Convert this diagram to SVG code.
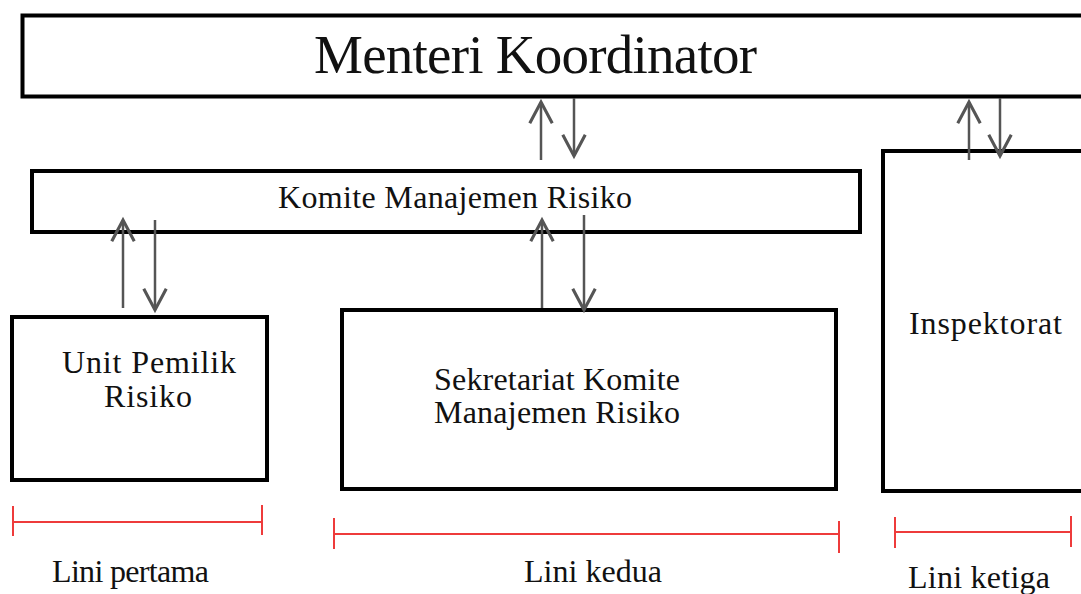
<svg xmlns="http://www.w3.org/2000/svg" width="1081" height="594" viewBox="0 0 1081 594">
<style>
.box{fill:#fff;stroke:#000;stroke-width:4}
.t{font-family:"Liberation Serif","Times New Roman",serif;fill:#111}
.arr{stroke:#555;stroke-width:2.5;fill:none}
.bar{stroke:#ee3b3b;stroke-width:2;fill:none}
</style>
<defs>
<marker id="ah" markerUnits="userSpaceOnUse" markerWidth="30" markerHeight="30" refX="0" refY="0" viewBox="-20 -12 24 24" orient="auto" overflow="visible">
<path d="M-17,-9 L0,0 L-17,9" fill="none" stroke="#555" stroke-width="2.5"/>
</marker>
</defs>
<rect width="1081" height="594" fill="#fff"/>
<g id="menteri">
<rect class="box" x="22.5" y="15.5" width="1100" height="81"/>
<text class="t" x="314" y="73" font-size="55" textLength="443">Menteri Koordinator</text>
</g>
<g id="komite">
<rect class="box" x="32" y="171" width="828" height="61"/>
<text class="t" x="278" y="208" font-size="32" textLength="354">Komite Manajemen Risiko</text>
</g>
<g id="unit">
<rect class="box" x="12" y="317" width="255" height="163"/>
<text class="t" x="62" y="373" font-size="32" textLength="174">Unit Pemilik</text>
<text class="t" x="104" y="407" font-size="32" textLength="88">Risiko</text>
</g>
<g id="sekretariat">
<rect class="box" x="342" y="310" width="494" height="179"/>
<text class="t" x="434" y="390" font-size="32" textLength="246">Sekretariat Komite</text>
<text class="t" x="434" y="423" font-size="32" textLength="246">Manajemen Risiko</text>
</g>
<g id="inspektorat">
<rect class="box" x="883" y="151" width="300" height="340"/>
<text class="t" x="909" y="334" font-size="32" textLength="153">Inspektorat</text>
</g>
<g id="connectors">
<line class="arr" x1="541" y1="160" x2="541" y2="102" marker-end="url(#ah)"/>
<line class="arr" x1="574" y1="98" x2="574" y2="156" marker-end="url(#ah)"/>
<line class="arr" x1="969" y1="160" x2="969" y2="102" marker-end="url(#ah)"/>
<line class="arr" x1="1000" y1="98" x2="1000" y2="156" marker-end="url(#ah)"/>
<line class="arr" x1="123" y1="308" x2="123" y2="220" marker-end="url(#ah)"/>
<line class="arr" x1="155" y1="220" x2="155" y2="310" marker-end="url(#ah)"/>
<line class="arr" x1="542" y1="308" x2="542" y2="220" marker-end="url(#ah)"/>
<line class="arr" x1="584" y1="215" x2="584" y2="310" marker-end="url(#ah)"/>
</g>
<g id="lini-pertama">
<path class="bar" d="M13,522 H262 M13,506 V536 M262,505 V535"/>
<text class="t" x="52" y="582" font-size="32" textLength="157">Lini pertama</text>
</g>
<g id="lini-kedua">
<path class="bar" d="M334,534 H839 M334,518 V549 M839,521 V553"/>
<text class="t" x="524" y="582" font-size="32" textLength="138">Lini kedua</text>
</g>
<g id="lini-ketiga">
<path class="bar" d="M895,532 H1071 M895,517 V548 M1071,516 V547"/>
<text class="t" x="908" y="588" font-size="32" textLength="142">Lini ketiga</text>
</g>
</svg>
